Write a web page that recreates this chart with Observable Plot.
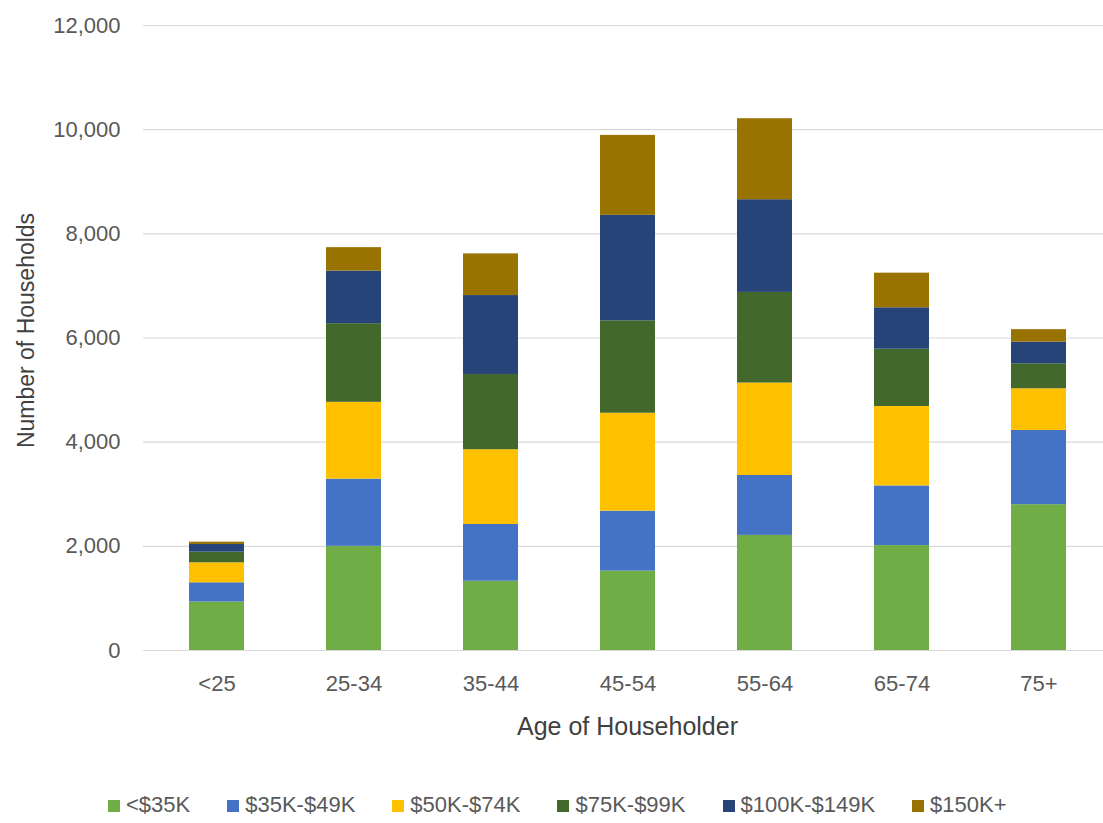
<!DOCTYPE html>
<html>
<head>
<meta charset="utf-8">
<script src="https://cdn.jsdelivr.net/npm/d3@7"></script>
<script src="https://cdn.jsdelivr.net/npm/@observablehq/plot@0.6"></script>
<style>
  html, body { margin: 0; padding: 0; background: #fff; }
  #wrap { position: relative; width: 1103px; height: 823px; overflow: hidden; }
  #legend { position: absolute; top: 794px; left: 108px; display: flex; gap: 37px;
    font-family: "Liberation Sans", Arial, sans-serif; font-size: 22px; line-height: 22px; color: #595959; }
  .item { display: flex; align-items: center; white-space: nowrap; }
  .sw { width: 12px; height: 12px; margin-right: 6px; margin-top: 2px; }
</style>
</head>
<body>
<div id="wrap">
  <div id="chart"></div>
  <div id="legend"></div>
</div>
<script>
const ages = ["<25", "25-34", "35-44", "45-54", "55-64", "65-74", "75+"];
const incomes = ["<$35K", "$35K-$49K", "$50K-$74K", "$75K-$99K", "$100K-$149K", "$150K+"];
const under35K = [930, 2000, 1330, 1525, 2210, 2015, 2800];
const k35to49 = [370, 1290, 1090, 1150, 1150, 1145, 1425];
const k50to74 = [384, 1475, 1435, 1880, 1775, 1525, 800];
const k75to99 = [204, 1510, 1445, 1775, 1740, 1100, 480];
const k100to149 = [147, 1010, 1515, 2025, 1780, 795, 415];
const k150plus = [45, 450, 800, 1535, 1555, 665, 240];
const incomeColors = ["#70AD47", "#4472C4", "#FFC000", "#43682B", "#264478", "#997300"];
const yTicks = [0, 2000, 4000, 6000, 8000, 10000, 12000];
const xTitle = "Age of Householder";
const yTitle = "Number of Households";

const series = [under35K, k35to49, k50to74, k75to99, k100to149, k150plus];
const rows = [];
incomes.forEach((inc, i) => ages.forEach((age, j) => rows.push({age, income: inc, value: series[i][j]})));

const font = "'Liberation Sans', Arial, sans-serif";
const chart = Plot.plot({
  width: 1103,
  height: 780,
  marginTop: 25,
  marginBottom: 130,
  marginLeft: 151,
  marginRight: 0,
  style: {fontFamily: font, fontSize: "22px", color: "#595959", background: "transparent"},
  x: {domain: ages, paddingInner: 0.6, paddingOuter: 0.25},
  y: {domain: [0, 12000]},
  color: {domain: incomes, range: incomeColors},
  marks: [
    Plot.ruleY(yTicks, {stroke: "#d9d9d9", strokeWidth: 1.2, insetLeft: -8}),
    Plot.barY(rows, {x: "age", y: "value", fill: "income"}),
    Plot.axisX({tickSize: 0, tickPadding: 25, label: null, fontSize: 22, fill: "#595959"}),
    Plot.axisY({ticks: yTicks, tickFormat: d3.format(","), tickSize: 0, tickPadding: 31, label: null, fontSize: 22, fill: "#595959"}),
    Plot.text([xTitle], {frameAnchor: "bottom", lineAnchor: "top", dy: 67, fontSize: 25, fill: "#404040", text: d => d}),
    Plot.text([yTitle], {frameAnchor: "left", textAnchor: "middle", lineAnchor: "bottom", rotate: -90, dx: -118, dy: -7.5, fontSize: 23, fill: "#404040", text: d => d})
  ]
});
document.getElementById("chart").appendChild(chart);

const legend = document.getElementById("legend");
incomes.forEach((inc, i) => {
  const item = document.createElement("div");
  item.className = "item";
  const sw = document.createElement("div");
  sw.className = "sw";
  sw.style.background = incomeColors[i];
  const label = document.createElement("span");
  label.textContent = inc;
  item.appendChild(sw);
  item.appendChild(label);
  legend.appendChild(item);
});
</script>
</body>
</html>
